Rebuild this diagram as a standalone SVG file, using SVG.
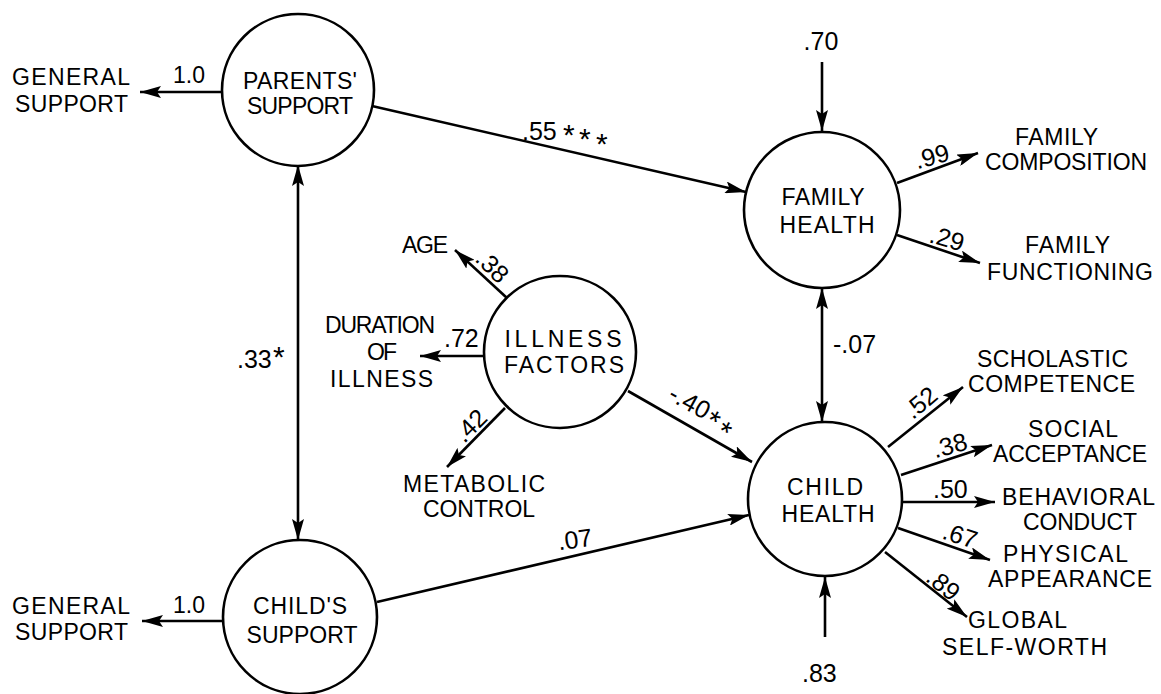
<svg xmlns="http://www.w3.org/2000/svg" width="1161" height="694" viewBox="0 0 1161 694">
<style>
  text { font-family: "Liberation Sans", Arial, sans-serif; font-size: 23px; fill: #000; }
  .m { text-anchor: middle; }
  .n { font-size: 25px; }
  .ast { font-size: 30px; }
  .node { fill: #fff; stroke: #000; stroke-width: 2.6; }
  .edge { fill: none; stroke: #000; stroke-width: 2.6; marker-end: url(#ah); }
  .both { marker-start: url(#ahs); }
</style>
<defs>
  <marker id="ah" markerUnits="userSpaceOnUse" markerWidth="21" markerHeight="12" refX="21" refY="6" orient="auto">
    <path d="M0,0 L21,6 L0,12 L4,6 z" fill="#000"/>
  </marker>
  <marker id="ahs" markerUnits="userSpaceOnUse" markerWidth="21" markerHeight="12" refX="21" refY="6" orient="auto-start-reverse">
    <path d="M0,0 L21,6 L0,12 L4,6 z" fill="#000"/>
  </marker>
</defs>
<rect width="1161" height="694" fill="#fff"/>

<g id="connectors">
  <path class="edge" d="M221,92 L140,92"/>
  <path class="edge" d="M223,621 L142,621"/>
  <path class="edge both" d="M298,165 L298,540"/>
  <path class="edge" d="M372,106 L746,192"/>
  <path class="edge" d="M822,62 L822,131"/>
  <path class="edge" d="M897,183 L978,153"/>
  <path class="edge" d="M897,235 L980,263"/>
  <path class="edge both" d="M822,288 L822,422"/>
  <path class="edge" d="M507,298 L455,250"/>
  <path class="edge" d="M484,356 L420,356"/>
  <path class="edge" d="M505,408 L447,467"/>
  <path class="edge" d="M628,391 L752,462"/>
  <path class="edge" d="M377,602 L749,515"/>
  <path class="edge" d="M888,447 L963,387"/>
  <path class="edge" d="M901,475 L992,445"/>
  <path class="edge" d="M902,502 L995,502"/>
  <path class="edge" d="M898,528 L990,560"/>
  <path class="edge" d="M885,552 L967,617"/>
  <path class="edge" d="M825,637 L825,577"/>
</g>

<g id="labels">
  <text x="173" y="83">1.0</text>
  <text x="173" y="613">1.0</text>
  <text class="n" x="237" y="368">.33<tspan class="ast" x="273" y="367">*</tspan></text>
  <text class="n" x="522" y="140">.55<tspan class="ast" x="563" y="145">*</tspan><tspan class="ast" x="579" y="149">*</tspan><tspan class="ast" x="596" y="154">*</tspan></text>
  <text class="m n" x="821" y="50">.70</text>
  <text class="m n" x="932" y="165" transform="rotate(-15 932 157)">.99</text>
  <text class="m n" x="947" y="247" transform="rotate(16 947 239)">.29</text>
  <text class="n" x="833" y="353">-.07</text>
  <text class="m n" x="492" y="275" transform="rotate(45 492 267)">.38</text>
  <text class="n" x="444" y="347">.72</text>
  <text class="m n" x="471" y="434" transform="rotate(-45 471 426)">.42</text>
  <g transform="rotate(29 703 410)">
    <text class="n" x="666" y="418">-.40<tspan class="ast" x="711" y="425">*</tspan><tspan class="ast" x="726" y="429">*</tspan></text>
  </g>
  <text class="m n" x="575" y="548" transform="rotate(-8 575 540)">.07</text>
  <text class="m n" x="921" y="411" transform="rotate(-40 921 403)">.52</text>
  <text class="m n" x="950" y="454" transform="rotate(-15 950 446)">.38</text>
  <text class="n" x="933" y="498">.50</text>
  <text class="m n" x="960" y="544" transform="rotate(18 960 536)">.67</text>
  <text class="m n" x="943" y="593" transform="rotate(40 943 585)">.89</text>
  <text class="n" x="802" y="682">.83</text>
</g>

<g id="parents-support">
  <circle class="node" cx="298" cy="90" r="76"/>
  <text class="m" x="300" y="89" font-size="22" textLength="114" lengthAdjust="spacing">PARENTS'</text>
  <text class="m" x="300" y="114" font-size="22" textLength="106" lengthAdjust="spacing">SUPPORT</text>
</g>
<g id="childs-support">
  <circle class="node" cx="300" cy="617" r="77"/>
  <text class="m" x="300" y="614" textLength="94" lengthAdjust="spacing">CHILD'S</text>
  <text class="m" x="302" y="643" textLength="111" lengthAdjust="spacing">SUPPORT</text>
</g>
<g id="family-health">
  <circle class="node" cx="822" cy="210" r="78"/>
  <text class="m" x="823" y="205" textLength="83" lengthAdjust="spacing">FAMILY</text>
  <text class="m" x="827" y="233" textLength="95" lengthAdjust="spacing">HEALTH</text>
</g>
<g id="illness-factors">
  <circle class="node" cx="560" cy="352" r="76"/>
  <text class="m" x="563" y="347" textLength="117" lengthAdjust="spacing">ILLNESS</text>
  <text class="m" x="564" y="373" textLength="120" lengthAdjust="spacing">FACTORS</text>
</g>
<g id="child-health">
  <circle class="node" cx="825" cy="499" r="77"/>
  <text class="m" x="825" y="495" textLength="76" lengthAdjust="spacing">CHILD</text>
  <text class="m" x="828" y="522" textLength="93" lengthAdjust="spacing">HEALTH</text>
</g>

<g id="general-support-1">
  <text x="12" y="85" textLength="118" lengthAdjust="spacing">GENERAL</text>
  <text x="15" y="112" textLength="113" lengthAdjust="spacing">SUPPORT</text>
</g>
<g id="general-support-2">
  <text x="12" y="614" textLength="118" lengthAdjust="spacing">GENERAL</text>
  <text x="15" y="640" textLength="113" lengthAdjust="spacing">SUPPORT</text>
</g>
<g id="family-composition">
  <text x="1015" y="145" textLength="83" lengthAdjust="spacing">FAMILY</text>
  <text x="985" y="170" textLength="162" lengthAdjust="spacing">COMPOSITION</text>
</g>
<g id="family-functioning">
  <text x="1025" y="253" textLength="85" lengthAdjust="spacing">FAMILY</text>
  <text x="987" y="280" textLength="166" lengthAdjust="spacing">FUNCTIONING</text>
</g>
<g id="age">
  <text x="402" y="253" textLength="46" lengthAdjust="spacing">AGE</text>
</g>
<g id="duration">
  <text x="325" y="333" font-size="21" textLength="110" lengthAdjust="spacing">DURATION</text>
  <text x="367" y="360" textLength="30" lengthAdjust="spacing">OF</text>
  <text x="330" y="387" textLength="103" lengthAdjust="spacing">ILLNESS</text>
</g>
<g id="metabolic">
  <text x="403" y="492" textLength="142" lengthAdjust="spacing">METABOLIC</text>
  <text x="423" y="517" textLength="112" lengthAdjust="spacing">CONTROL</text>
</g>
<g id="scholastic">
  <text x="977" y="367" textLength="151" lengthAdjust="spacing">SCHOLASTIC</text>
  <text x="968" y="392" textLength="167" lengthAdjust="spacing">COMPETENCE</text>
</g>
<g id="social">
  <text x="1028" y="437" textLength="90" lengthAdjust="spacing">SOCIAL</text>
  <text x="993" y="462" font-size="22.5" textLength="154" lengthAdjust="spacing">ACCEPTANCE</text>
</g>
<g id="behavioral">
  <text x="1002" y="505" textLength="153" lengthAdjust="spacing">BEHAVIORAL</text>
  <text x="1023" y="530" textLength="114" lengthAdjust="spacing">CONDUCT</text>
</g>
<g id="physical">
  <text x="1003" y="562" textLength="125" lengthAdjust="spacing">PHYSICAL</text>
  <text x="988" y="587" textLength="164" lengthAdjust="spacing">APPEARANCE</text>
</g>
<g id="global">
  <text x="968" y="628" textLength="99" lengthAdjust="spacing">GLOBAL</text>
  <text x="942" y="655" textLength="165" lengthAdjust="spacing">SELF-WORTH</text>
</g>
</svg>
